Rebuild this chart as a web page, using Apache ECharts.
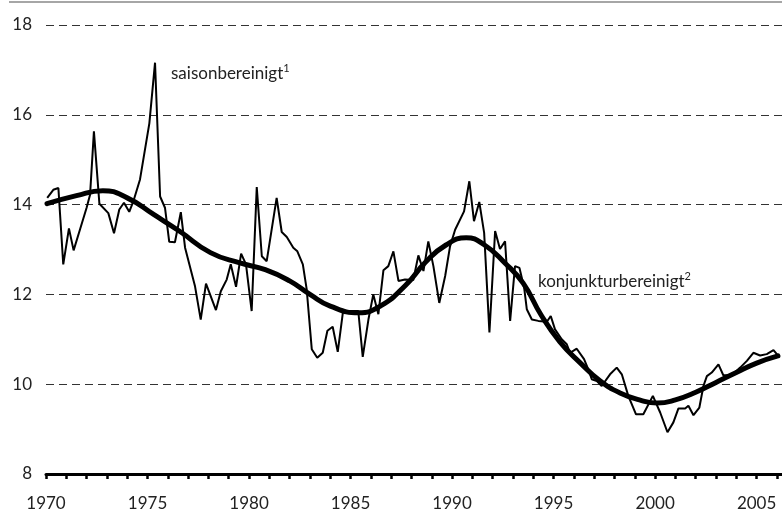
<!DOCTYPE html>
<html>
<head>
<meta charset="utf-8">
<script src="https://cdn.jsdelivr.net/npm/echarts@6/dist/echarts.min.js"></script>
<style>
  html, body { margin: 0; padding: 0; background: #fff; }
  #chart { width: 782px; height: 512px; }
</style>
</head>
<body>
<div id="chart"></div>
<script>
// saisonbereinigt: Knickpunkte der duennen Linie (Jahr, Wert)
var saisonYear = [
  1970.06, 1970.36, 1970.61, 1970.85, 1971.13, 1971.36, 1971.67, 1972.0, 1972.17, 1972.36,
  1972.63, 1973.07, 1973.35, 1973.61, 1973.84, 1974.1, 1974.3, 1974.63, 1975.09, 1975.37,
  1975.62, 1975.86, 1976.07, 1976.35, 1976.64, 1976.85, 1977.34, 1977.62, 1977.88, 1978.37,
  1978.61, 1978.9, 1979.1, 1979.36, 1979.61, 1979.85, 1980.13, 1980.38, 1980.63, 1980.87,
  1981.36, 1981.61, 1981.86, 1982.18, 1982.38, 1982.65, 1982.84, 1983.09, 1983.36, 1983.63,
  1983.86, 1984.12, 1984.37, 1984.62, 1984.81, 1985.38, 1985.6, 1985.88, 1986.12, 1986.37,
  1986.62, 1986.86, 1987.11, 1987.36, 1987.68, 1988.09, 1988.34, 1988.59, 1988.83, 1989.08,
  1989.37, 1989.66, 1989.9, 1990.15, 1990.59, 1990.85, 1991.08, 1991.34, 1991.58, 1991.84,
  1992.12, 1992.36, 1992.61, 1992.86, 1993.1, 1993.32, 1993.55, 1993.68, 1993.93, 1994.25,
  1994.67, 1994.86, 1995.07, 1995.4, 1995.65, 1995.81, 1996.14, 1996.5, 1996.71, 1996.88,
  1997.13, 1997.37, 1997.78, 1998.11, 1998.36, 1998.68, 1999.06, 1999.42, 1999.89, 2000.25,
  2000.61, 2000.9, 2001.15, 2001.48, 2001.64, 2001.89, 2002.18, 2002.38, 2002.55, 2002.79,
  2003.12, 2003.36, 2003.78, 2004.19, 2004.52, 2004.84, 2005.17, 2005.5, 2005.83, 2006.07
];
var saisonValue = [
  14.15, 14.33, 14.37, 12.67, 13.47, 12.98, 13.44, 13.93, 14.22, 15.63,
  14.02, 13.81, 13.36, 13.89, 14.04, 13.84, 14.07, 14.56, 15.81, 17.16,
  14.18, 13.93, 13.17, 13.16, 13.83, 13.04, 12.18, 11.44, 12.24, 11.65,
  12.07, 12.33, 12.67, 12.17, 12.91, 12.67, 11.63, 14.39, 12.85, 12.74,
  14.15, 13.39, 13.28, 13.04, 12.96, 12.67, 12.11, 10.78, 10.59, 10.7,
  11.19, 11.28, 10.72, 11.59, 11.63, 11.63, 10.61, 11.44, 12.0, 11.56,
  12.54, 12.63, 12.96, 12.3, 12.33, 12.32, 12.87, 12.52, 13.18, 12.63,
  11.81, 12.41, 13.07, 13.44, 13.85, 14.52, 13.63, 14.06, 13.37, 11.15,
  13.41, 13.01, 13.18, 11.41, 12.63, 12.59, 12.15, 11.67, 11.44, 11.41,
  11.39, 11.52, 11.22, 11.0, 10.89, 10.7, 10.79, 10.56, 10.33, 10.11,
  10.07, 9.96, 10.22, 10.37, 10.22, 9.74, 9.33, 9.33, 9.74, 9.37,
  8.93, 9.15, 9.46, 9.46, 9.52, 9.31, 9.48, 9.96, 10.18, 10.26,
  10.44, 10.2, 10.2, 10.37, 10.52, 10.7, 10.64, 10.67, 10.76, 10.63
];

// konjunkturbereinigt: glatte Linie
var trendYear = [
  1970.05, 1971.5, 1972.8, 1974.0, 1975.3, 1976.6, 1978.1, 1979.55, 1980.8, 1982.0,
  1983.0, 1984.0, 1985.4, 1986.5, 1987.7, 1988.7, 1989.7, 1990.7, 1991.6, 1992.6,
  1993.5, 1994.4, 1995.3, 1996.3, 1997.3, 1998.3, 1999.3, 2000.1, 2001.0, 2002.0,
  2003.0, 2004.0, 2005.0, 2006.05
];
var trendValue = [
  14.02, 14.2, 14.31, 14.15, 13.78, 13.4, 12.93, 12.7, 12.55, 12.3,
  12.0, 11.74, 11.59, 11.75, 12.2, 12.72, 13.1, 13.26, 13.1, 12.7,
  12.25, 11.53, 10.95, 10.48, 10.07, 9.8, 9.64, 9.58, 9.65, 9.82,
  10.04, 10.26, 10.47, 10.63
];

var yTicks = [8, 10, 12, 14, 16, 18];

function pairs(xs, ys) {
  return xs.map(function (x, i) { return [x, ys[i]]; });
}

var chart = echarts.init(document.getElementById('chart'), null, { renderer: 'canvas' });

var font = 'Lato, "Open Sans", sans-serif';
var txt = '#222';

var option = {
  animation: false,
  backgroundColor: '#fff',
  grid: { left: 46, right: 0, top: 25, bottom: 37, containLabel: false },
  xAxis: {
    type: 'value',
    min: 1970,
    max: 2006.25,
    interval: 1,
    axisLine: { show: true, lineStyle: { color: '#000', width: 3 } },
    axisTick: { show: true, length: 5, lineStyle: { color: '#000', width: 2.5 } },
    splitLine: { show: false },
    axisLabel: {
      margin: 21,
      fontFamily: font,
      fontSize: 17,
      color: txt,
      showMaxLabel: false,
      formatter: function (v) { return (v % 5 === 0) ? String(v) : ''; }
    }
  },
  yAxis: {
    type: 'value',
    min: yTicks[0],
    max: yTicks[yTicks.length - 1],
    interval: 2,
    axisLine: { show: false },
    axisTick: { show: false },
    axisLabel: { margin: 14, fontFamily: font, fontSize: 17, color: txt },
    splitLine: { show: true, lineStyle: { color: '#333', width: 1, type: [8, 5] } }
  },
  series: [
    {
      name: 'saisonbereinigt',
      type: 'line',
      data: pairs(saisonYear, saisonValue),
      showSymbol: false,
      symbol: 'none',
      lineStyle: { color: '#000', width: 2 },
      z: 3
    },
    {
      name: 'konjunkturbereinigt',
      type: 'line',
      data: pairs(trendYear, trendValue),
      smooth: 0.5,
      showSymbol: false,
      symbol: 'none',
      lineStyle: { color: '#000', width: 5, cap: 'round' },
      z: 4
    }
  ],
  graphic: [
    {
      type: 'line',
      shape: { x1: 9, y1: 2, x2: 782, y2: 2 },
      style: { stroke: '#888', lineWidth: 1.5 }
    },
    {
      type: 'text',
      left: 171,
      top: 63,
      style: {
        text: '{m|saisonbereinigt}{s|1}',
        rich: {
          m: { fontFamily: font, fontSize: 17, lineHeight: 22, fill: txt },
          s: { fontFamily: font, fontSize: 11, lineHeight: 11, verticalAlign: 'top', fill: txt }
        }
      }
    },
    {
      type: 'text',
      left: 538,
      top: 271,
      style: {
        text: '{m|konjunkturbereinigt}{s|2}',
        rich: {
          m: { fontFamily: font, fontSize: 17, lineHeight: 22, fill: txt },
          s: { fontFamily: font, fontSize: 11, lineHeight: 11, verticalAlign: 'top', fill: txt }
        }
      }
    }
  ]
};

chart.setOption(option);
</script>
</body>
</html>
